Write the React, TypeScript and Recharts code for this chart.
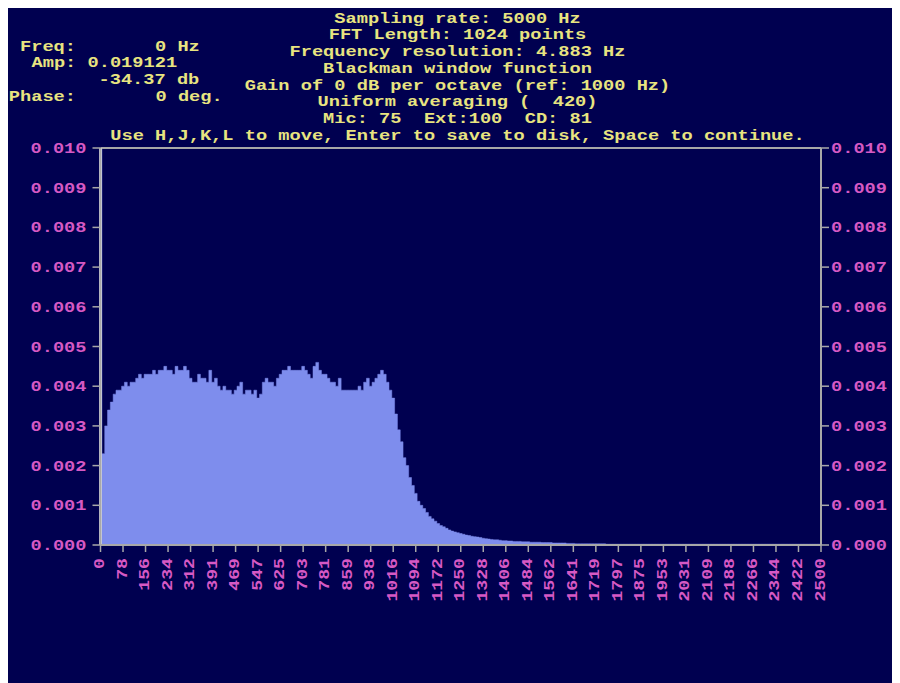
import React from 'react';
import { AreaChart, Area, XAxis, YAxis, ReferenceLine } from 'recharts';

const BG = '#000050';
const YELLOW = '#e8e480';
const MAGENTA = '#d659c4';
const GREY = '#a8a8a8';
const FILL = '#7e8ded';
const FONT = '"Liberation Mono", "DejaVu Sans Mono", monospace';
const CELL = 11.2;

const headerLines = [
  'Sampling rate: 5000 Hz',
  'FFT Length: 1024 points',
  'Frequency resolution: 4.883 Hz',
  'Blackman window function',
  'Gain of 0 dB per octave (ref: 1000 Hz)',
  'Uniform averaging (  420)',
  'Mic: 75  Ext:100  CD: 81',
  'Use H,J,K,L to move, Enter to save to disk, Space to continue.',
];

const readoutLabels = ['Freq:', 'Amp:', 'Phase:'];
const readoutValues = ['0 Hz', '0.019121', '-34.37 db', '0 deg.'];

const cursorHz = 0;
const binWidthHz = 9.765625;

const amplitude = [
  0.019121, 0.0023, 0.0030, 0.0034, 0.0036, 0.0038, 0.0039, 0.0039, 0.0040, 0.0041,
  0.0040, 0.0041, 0.0041, 0.0042, 0.0043, 0.0042, 0.0043, 0.0043, 0.0043, 0.0044,
  0.0043, 0.0044, 0.0044, 0.0045, 0.0044, 0.0044, 0.0043, 0.0045, 0.0044, 0.0044,
  0.0045, 0.0044, 0.0042, 0.0041, 0.0041, 0.0043, 0.0042, 0.0042, 0.0041, 0.0044,
  0.0041, 0.0042, 0.0040, 0.0039, 0.0040, 0.0039, 0.0039, 0.0038, 0.0039, 0.0040,
  0.0041, 0.0038, 0.0039, 0.0039, 0.0038, 0.0039, 0.0037, 0.0038, 0.0041, 0.0042,
  0.0041, 0.0041, 0.0040, 0.0042, 0.0043, 0.0044, 0.0044, 0.0045, 0.0044, 0.0044,
  0.0044, 0.0044, 0.0045, 0.0044, 0.0043, 0.0042, 0.0045, 0.0046, 0.0044, 0.0043,
  0.0043, 0.0042, 0.0041, 0.0041, 0.0040, 0.0042, 0.0039, 0.0039, 0.0039, 0.0039,
  0.0039, 0.0039, 0.0040, 0.0039, 0.0041, 0.0042, 0.0040, 0.0041, 0.0042, 0.0043,
  0.0044, 0.0043, 0.0041, 0.0039, 0.0037, 0.0033, 0.0029, 0.0026, 0.0022, 0.0020,
  0.0017, 0.0015, 0.0013, 0.0011, 0.0010, 0.00092, 0.00082, 0.00072, 0.00066, 0.00060,
  0.00054, 0.00049, 0.00046, 0.00042, 0.00038, 0.00035, 0.00033, 0.00031, 0.00029, 0.00027,
  0.00025, 0.00024, 0.00022, 0.00021, 0.00020, 0.00019, 0.00017, 0.00016, 0.00015, 0.00014,
  0.00013, 0.00013, 0.00012, 0.00011, 0.00011, 0.00010, 0.00010, 0.00009, 0.00009, 0.00009,
  0.00008, 0.00008, 0.00008, 0.00007, 0.00007, 0.00007, 0.00007, 0.00006, 0.00006, 0.00006,
  0.00006, 0.00005, 0.00005, 0.00005, 0.00005, 0.00005, 0.00004, 0.00004, 0.00004, 0.00003,
  0.00003, 0.00003, 0.00003, 0.00003, 0.00003, 0.00003, 0.00003, 0.00003, 0.00003, 0.00003,
  0.00002, 0.00002, 0.00002, 0.00002, 0.00002, 0.00002, 0.00002, 0.00002, 0.00002, 0.00002,
  0.00002, 0.00002, 0.00002, 0.00002, 0.00002, 0.00002, 0.00002, 0.00002, 0.00002, 0.00002,
  0.00002, 0.00002, 0.00002, 0.00002, 0.00002, 0.00002, 0.00002, 0.00002, 0.00002, 0.00002,
  0.00002, 0.00002, 0.00002, 0.00002, 0.00002, 0.00002, 0.00002, 0.00002, 0.00002, 0.00002,
  0.00002, 0.00002, 0.00002, 0.00002, 0.00002, 0.00002, 0.00002, 0.00002, 0.00002, 0.00002,
  0.00002, 0.00002, 0.00002, 0.00002, 0.00002, 0.00002, 0.00002, 0.00002, 0.00002, 0.00002,
  0.00002, 0.00002, 0.00002, 0.00002, 0.00002, 0.00002, 0.00002, 0.00002, 0.00002, 0.00002,
  0.00002, 0.00002, 0.00002, 0.00002, 0.00002, 0.00002, 0.00002,
];

const xTickValues = [
  0, 78.125, 156.25, 234.375, 312.5, 390.625, 468.75, 546.875, 625, 703.125, 781.25,
  859.375, 937.5, 1015.625, 1093.75, 1171.875, 1250, 1328.125, 1406.25, 1484.375, 1562.5,
  1640.625, 1718.75, 1796.875, 1875, 1953.125, 2031.25, 2109.375, 2187.5, 2265.625,
  2343.75, 2421.875, 2500,
];
const xTickLabels = [
  '0', '78', '156', '234', '312', '391', '469', '547', '625', '703', '781', '859', '938',
  '1016', '1094', '1172', '1250', '1328', '1406', '1484', '1562', '1641', '1719', '1797',
  '1875', '1953', '2031', '2109', '2188', '2266', '2344', '2422', '2500',
];
const yTickValues = [0, 0.001, 0.002, 0.003, 0.004, 0.005, 0.006, 0.007, 0.008, 0.009, 0.01];
const yTickLabels = ['0.000', '0.001', '0.002', '0.003', '0.004', '0.005', '0.006', '0.007', '0.008', '0.009', '0.010'];

const data = amplitude.map((a, i) => ({ f: i * binWidthHz, a }));

const findIdx = (arr: number[], v: number) => {
  let best = 0;
  for (let i = 0; i < arr.length; i++) if (Math.abs(arr[i] - v) < Math.abs(arr[best] - v)) best = i;
  return best;
};

const DosText = ({ x, y, s, anchor = 'start', fill = YELLOW, size = 14, cell = CELL }: any) => (
  <text
    x={x}
    y={y}
    textAnchor={anchor}
    fill={fill}
    fontFamily={FONT}
    fontWeight="bold"
    fontSize={size}
    textLength={s.length * cell}
    lengthAdjust="spacingAndGlyphs"
    xmlSpace="preserve"
    style={{ whiteSpace: 'pre' }}
  >
    {s}
  </text>
);

const LeftYTick = (props: any) => {
  const { x, y, payload } = props;
  const i = findIdx(yTickValues, payload.value);
  return <DosText x={x - 4} y={y + 5} s={yTickLabels[i]} anchor="end" fill={MAGENTA} />;
};

const RightYTick = (props: any) => {
  const { x, y, payload } = props;
  const i = findIdx(yTickValues, payload.value);
  return <DosText x={x} y={y + 5} s={yTickLabels[i]} anchor="start" fill={MAGENTA} />;
};

const XTick = (props: any) => {
  const { x, y, payload } = props;
  const i = findIdx(xTickValues, payload.value);
  const s = xTickLabels[i];
  const ay = y + 4;
  return (
    <g transform={`rotate(-90 ${x} ${ay})`}>
      <text
        x={x}
        y={ay}
        textAnchor="end"
        dominantBaseline="central"
        fill={MAGENTA}
        fontFamily={FONT}
        fontWeight="bold"
        fontSize={15}
        textLength={s.length * 10.9}
        lengthAdjust="spacingAndGlyphs"
      >
        {s}
      </text>
    </g>
  );
};

export default function App() {
  const W = 892;
  const H = 675;
  const headerX = 449.5;
  return (
    <div style={{ position: 'relative', width: W, height: H, background: BG, overflow: 'hidden' }}>
      <AreaChart width={W} height={H} data={data} margin={{ top: 140, right: 0, bottom: 78, left: 2.5 }}>
        <XAxis
          dataKey="f"
          type="number"
          domain={[0, 2500]}
          ticks={xTickValues}
          interval={0}
          height={60}
          tickSize={7}
          tickMargin={2}
          tick={<XTick />}
          axisLine={{ stroke: GREY, strokeWidth: 2 }}
          tickLine={{ stroke: GREY, strokeWidth: 1.5 }}
        />
        <YAxis
          yAxisId="l"
          domain={[0, 0.01]}
          allowDataOverflow
          ticks={yTickValues}
          interval={0}
          width={90}
          tickSize={8}
          tick={<LeftYTick />}
          axisLine={{ stroke: GREY, strokeWidth: 2 }}
          tickLine={{ stroke: GREY, strokeWidth: 1.5 }}
        />
        <YAxis
          yAxisId="r"
          orientation="right"
          domain={[0, 0.01]}
          allowDataOverflow
          ticks={yTickValues}
          interval={0}
          width={79}
          tickSize={8}
          tick={<RightYTick />}
          axisLine={{ stroke: GREY, strokeWidth: 2 }}
          tickLine={{ stroke: GREY, strokeWidth: 1.5 }}
        />
        <Area
          yAxisId="l"
          type="step"
          dataKey="a"
          fill={FILL}
          fillOpacity={1}
          stroke={FILL}
          strokeWidth={0.5}
          isAnimationActive={false}
        />
        <ReferenceLine yAxisId="l" y={0.01} stroke={GREY} strokeWidth={2} />
        <ReferenceLine yAxisId="l" x={cursorHz} stroke="#ffffff" strokeWidth={2.5} />
      </AreaChart>
      <svg
        width={W}
        height={H}
        style={{ position: 'absolute', left: 0, top: 0, pointerEvents: 'none' }}
      >
        {headerLines.map((s, i) => (
          <DosText key={i} x={headerX} y={14.5 + 16.75 * i} s={s} anchor="middle" />
        ))}
        <DosText x={12} y={42.7} s={readoutLabels[0]} />
        <DosText x={147} y={42.7} s={readoutValues[0]} />
        <DosText x={23.5} y={59.4} s={readoutLabels[1]} />
        <DosText x={79.5} y={59.4} s={readoutValues[1]} />
        <DosText x={90.5} y={76.2} s={readoutValues[2]} />
        <DosText x={0.8} y={92.9} s={readoutLabels[2]} />
        <DosText x={147.5} y={92.9} s={readoutValues[3]} />
      </svg>
    </div>
  );
}
